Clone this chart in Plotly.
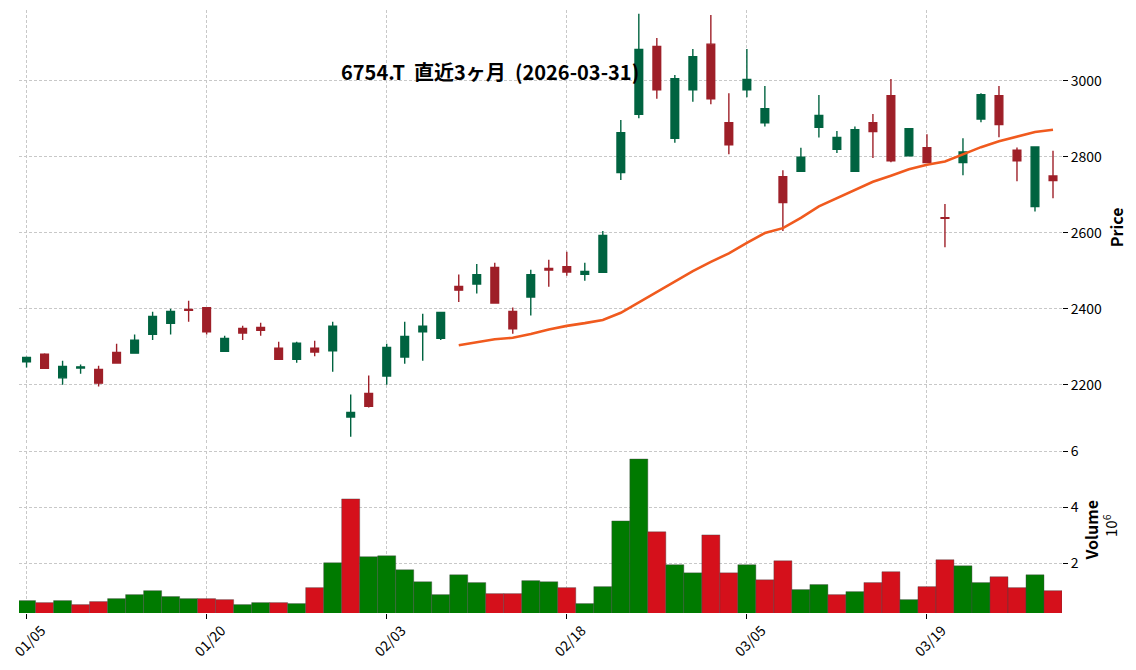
import pandas as pd
import plotly.graph_objects as go
from plotly.subplots import make_subplots

ticker = "6754.T"
title = "6754.T  直近3ヶ月  (2026-03-31)"

dates = ["2026-01-05", "2026-01-06", "2026-01-07", "2026-01-08", "2026-01-09", "2026-01-13",
         "2026-01-14", "2026-01-15", "2026-01-16", "2026-01-19", "2026-01-20", "2026-01-21",
         "2026-01-22", "2026-01-23", "2026-01-26", "2026-01-27", "2026-01-28", "2026-01-29",
         "2026-01-30", "2026-02-02", "2026-02-03", "2026-02-04", "2026-02-05", "2026-02-06",
         "2026-02-09", "2026-02-10", "2026-02-12", "2026-02-13", "2026-02-16", "2026-02-17",
         "2026-02-18", "2026-02-19", "2026-02-20", "2026-02-24", "2026-02-25", "2026-02-26",
         "2026-02-27", "2026-03-02", "2026-03-03", "2026-03-04", "2026-03-05", "2026-03-06",
         "2026-03-09", "2026-03-10", "2026-03-11", "2026-03-12", "2026-03-13", "2026-03-16",
         "2026-03-17", "2026-03-18", "2026-03-19", "2026-03-23", "2026-03-24", "2026-03-25",
         "2026-03-26", "2026-03-27", "2026-03-30", "2026-03-31"]

opens = [2260, 2280, 2218, 2244, 2240, 2285, 2283, 2333, 2362, 2398,
         2403, 2288, 2348, 2351, 2296, 2267, 2296, 2289, 2115, 2177,
         2223, 2273, 2339, 2322, 2459, 2465, 2509, 2393, 2431, 2506,
         2511, 2491, 2496, 2759, 2912, 3091, 2849, 2977, 3097, 2890,
         2977, 2890, 2748, 2762, 2878, 2820, 2762, 2890, 2961, 2803,
         2824, 2640, 2785, 2900, 2961, 2818, 2669, 2750]
highs = [2274, 2283, 2263, 2253, 2250, 2308, 2332, 2392, 2400, 2421,
         2404, 2329, 2355, 2363, 2313, 2313, 2316, 2366, 2174, 2224,
         2308, 2366, 2387, 2391, 2490, 2518, 2521, 2403, 2503, 2529,
         2550, 2521, 2605, 2897, 3177, 3113, 3016, 3084, 3174, 2968,
         3084, 2987, 2765, 2824, 2963, 2868, 2880, 2913, 3005, 2876,
         2860, 2676, 2849, 2968, 2987, 2825, 2828, 2816]
lows = [2245, 2241, 2200, 2229, 2195, 2255, 2282, 2318, 2332, 2366,
        2332, 2286, 2318, 2329, 2265, 2258, 2275, 2234, 2063, 2140,
        2200, 2255, 2263, 2318, 2418, 2440, 2413, 2334, 2382, 2458,
        2487, 2474, 2494, 2739, 2902, 2953, 2837, 2945, 2939, 2807,
        2957, 2880, 2605, 2761, 2851, 2810, 2761, 2797, 2786, 2801,
        2783, 2562, 2752, 2891, 2852, 2736, 2656, 2691]
closes = [2272, 2243, 2248, 2247, 2204, 2257, 2317, 2380, 2393, 2396,
          2339, 2322, 2336, 2343, 2267, 2309, 2286, 2354, 2127, 2143,
          2298, 2327, 2354, 2390, 2449, 2490, 2415, 2347, 2490, 2502,
          2497, 2498, 2593, 2864, 3083, 2977, 3006, 3064, 2953, 2832,
          3004, 2927, 2680, 2799, 2909, 2851, 2872, 2867, 2790, 2874,
          2785, 2638, 2813, 2964, 2885, 2790, 2826, 2738]
volumes = [655000, 583000, 655000, 512000, 620000, 726000, 869000, 1010000, 800000, 726000,
           726000, 690000, 512000, 583000, 583000, 548000, 1120000, 2010000, 4300000, 2230000,
           2260000, 1760000, 1330000, 869000, 1580000, 1300000, 905000, 905000, 1370000, 1330000,
           1120000, 548000, 1155000, 3510000, 5730000, 3120000, 1940000, 1650000, 3010000, 1650000,
           1940000, 1400000, 2080000, 1050000, 1230000, 869000, 976000, 1300000, 1690000, 690000,
           1155000, 2120000, 1900000, 1300000, 1510000, 1120000, 1580000, 1010000]

df = pd.DataFrame({"Date": pd.to_datetime(dates), "Open": opens, "High": highs,
                   "Low": lows, "Close": closes, "Volume": volumes})
df["idx"] = range(len(df))
df["MA25"] = df["Close"].rolling(25).mean()

# volume colour follows close vs previous close (first bar: close vs open)
prev = df["Close"].shift(1).fillna(df["Open"])
vol_colors = ["#007a00" if c > p else "#d5101b" for c, p in zip(df["Close"], prev)]

tick_idx = [0, 10, 20, 30, 40, 50]
tick_txt = [df["Date"][i].strftime("%m/%d") for i in tick_idx]

font_name = "Noto Sans CJK JP"

fig = make_subplots(rows=2, cols=1, shared_xaxes=True, vertical_spacing=0.003,
                    row_heights=[0.723, 0.277])

fig.add_trace(
    go.Candlestick(x=df["idx"], open=df["Open"], high=df["High"], low=df["Low"], close=df["Close"],
                   increasing=dict(line=dict(color="#006340", width=1.4), fillcolor="#006340"),
                   decreasing=dict(line=dict(color="#9e1f28", width=1.4), fillcolor="#9e1f28"),
                   whiskerwidth=0, showlegend=False, hoverinfo="skip"),
    row=1, col=1)

fig.add_trace(
    go.Scatter(x=df["idx"], y=df["MA25"], mode="lines",
               line=dict(color="#f05a1e", width=2.6), showlegend=False, hoverinfo="skip"),
    row=1, col=1)

fig.add_trace(
    go.Bar(x=df["idx"], y=df["Volume"] / 1e6, width=1.0,
           marker=dict(color=vol_colors, line=dict(width=0.4, color="#444444")),
           showlegend=False, hoverinfo="skip"),
    row=2, col=1)

grid = dict(showgrid=True, gridcolor="#c8c8c8", griddash="3px,2px", gridwidth=0.8, zeroline=False,
            showline=False, automargin=False)

fig.update_xaxes(**grid, range=[-0.42, 57.5], tickvals=tick_idx, ticktext=tick_txt,
                 rangeslider_visible=False)
fig.update_xaxes(showticklabels=False, ticks="", row=1, col=1)
fig.update_xaxes(showticklabels=True, ticks="outside", ticklen=5, tickcolor="black",
                 tickangle=-45, tickfont=dict(size=14, color="black"),
                 ticklabelshift=15, ticklabelstandoff=-2, ticklabeloverflow="allow",
                 row=2, col=1)

fig.update_yaxes(**grid, side="right", ticks="outside", ticklen=5, tickcolor="black",
                 tickfont=dict(size=14, color="black"))
fig.update_yaxes(range=[2042, 3187], tickvals=[2200, 2400, 2600, 2800, 3000],
                 title=dict(text="<b>Price</b>", font=dict(size=16, color="black"), standoff=12),
                 row=1, col=1)
fig.update_yaxes(range=[0.21, 6.18], tickvals=[2, 4, 6],
                 title=dict(text="<b>Volume</b>", font=dict(size=16, color="black"), standoff=4),
                 row=2, col=1)

fig.add_annotation(text="<b>" + title + "</b>", xref="paper", yref="paper", x=0.4516, y=0.925,
                   showarrow=False, font=dict(size=20, color="black"))
fig.add_annotation(text="10<sup>6</sup>", xref="paper", yref="paper", x=1.0455, y=0.145,
                   xanchor="center", yanchor="middle", textangle=-90, showarrow=False,
                   font=dict(size=15, color="black"))

# page body has an 8px margin, so size the figure to fit inside the window
fig.update_layout(
    width=1120, height=654,
    plot_bgcolor="white", paper_bgcolor="white",
    margin=dict(l=11, r=66, t=2, b=49),
    font=dict(family=font_name, color="black"),
    boxgap=0.39,
)

fig.write_html("out.html")
